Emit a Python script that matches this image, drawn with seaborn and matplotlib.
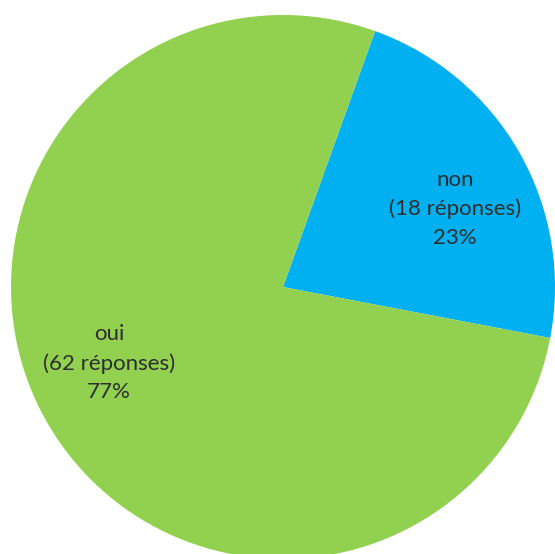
import matplotlib
matplotlib.use("Agg")
import matplotlib.pyplot as plt
import seaborn as sns

# Survey answers
categories = ["non", "oui"]
counts = [18, 62]
percent_labels = [23, 77]
colors = ["#00B0F0", "#92D050"]

sns.set_theme(style="white")
plt.rcParams["font.family"] = ["Lato", "DejaVu Sans"]

W, H = 555, 554
fig = plt.figure(figsize=(W / 100, H / 100), dpi=100)
cx, cy, r = 283, H - 287, 272
ax = fig.add_axes([(cx - r) / W, (cy - r) / H, 2 * r / W, 2 * r / H])

wedges, _ = ax.pie(counts, colors=colors, startangle=70.2, counterclock=False,
                   radius=1.0, wedgeprops=dict(linewidth=0))
ax.set_xlim(-1, 1)
ax.set_ylim(-1, 1)
ax.set_aspect("equal")
ax.axis("off")

label_pos = [(0.632, 0.287), (-0.64, -0.28)]
for cat, n, pct, (x, y) in zip(categories, counts, percent_labels, label_pos):
    ax.text(x, y, f"{cat}\n({n} réponses)\n{pct}%", ha="center", va="center",
            fontsize=16, color="#2e2e2e", linespacing=1.55)

fig.savefig("out.png", dpi=100)
